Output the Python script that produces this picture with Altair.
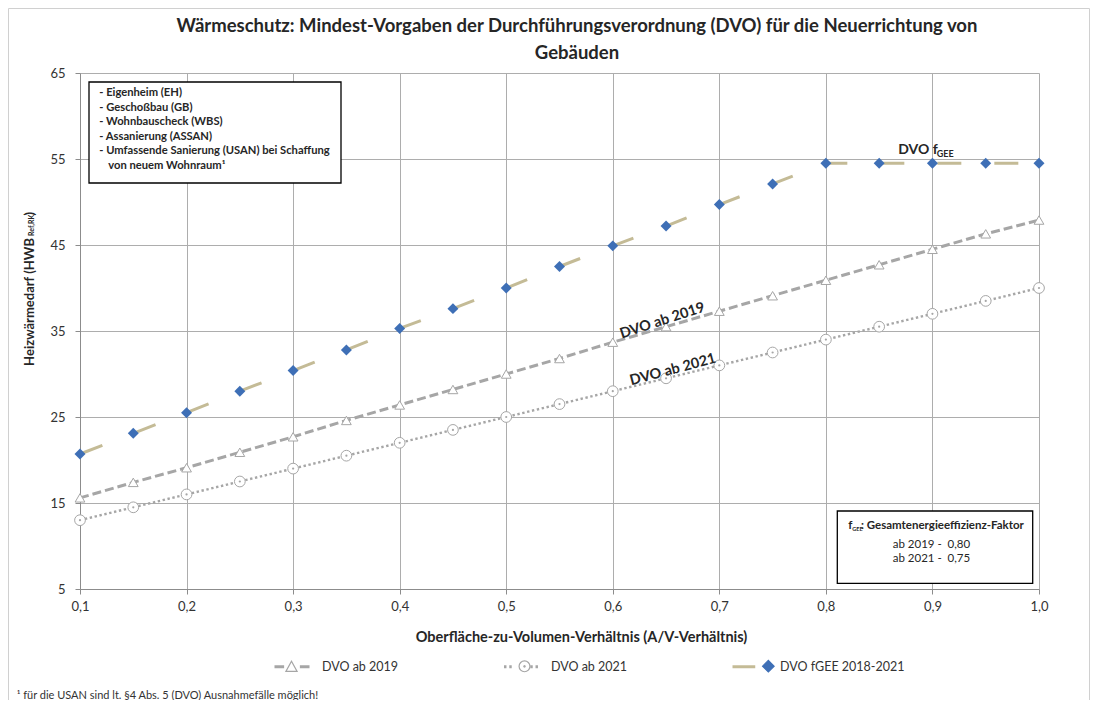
import altair as alt
import pandas as pd

# ---------------- data ----------------
av_ratio = [0.1, 0.15, 0.2, 0.25, 0.3, 0.35, 0.4, 0.45, 0.5, 0.55,
            0.6, 0.65, 0.7, 0.75, 0.8, 0.85, 0.9, 0.95, 1.0]
dvo_2019 = [15.6, 17.4, 19.1, 20.9, 22.7, 24.6, 26.4, 28.2, 30.0, 31.8,
            33.7, 35.5, 37.3, 39.1, 40.9, 42.7, 44.5, 46.3, 47.9]
dvo_2021 = [13.0, 14.5, 16.0, 17.5, 19.0, 20.5, 22.0, 23.5, 25.0, 26.5,
            28.0, 29.5, 31.0, 32.5, 34.0, 35.5, 37.0, 38.5, 40.0]
dvo_fgee = [20.7, 23.1, 25.5, 28.0, 30.4, 32.8, 35.3, 37.6, 40.0, 42.5,
            44.9, 47.2, 49.7, 52.1, 54.5, 54.5, 54.5, 54.5, 54.5]
series_names = ["DVO ab 2019", "DVO ab 2021", "DVO fGEE 2018-2021"]
x_ticks = [0.1, 0.2, 0.3, 0.4, 0.5, 0.6, 0.7, 0.8, 0.9, 1.0]
y_ticks = [5, 15, 25, 35, 45, 55, 65]

title_lines = ["Wärmeschutz: Mindest-Vorgaben der Durchführungsverordnung (DVO) für die Neuerrichtung von",
               "Gebäuden"]
box1_lines = ["- Eigenheim (EH)", "- Geschoßbau (GB)", "- Wohnbauscheck (WBS)",
              "- Assanierung (ASSAN)", "- Umfassende Sanierung (USAN) bei Schaffung"]
box1_last = "von neuem Wohnraum¹"
box2_lines = ["ab 2019 -\u00a0\u00a00,80", "ab 2021 -\u00a0\u00a00,75"]
footnote = "¹ für die USAN sind lt. §4 Abs. 5 (DVO) Ausnahmefälle möglich!"

df = pd.DataFrame({
    "av": av_ratio * 3,
    "hwb": dvo_2019 + dvo_2021 + dvo_fgee,
    "series": [series_names[0]] * len(av_ratio) + [series_names[1]] * len(av_ratio)
              + [series_names[2]] * len(av_ratio),
})
df["series_m"] = df["series"]
d19 = df[df["series"] == series_names[0]]
d21 = df[df["series"] == series_names[1]]
dfg = df[df["series"] == series_names[2]]

FONT = "Lato"
GRAY = "#A6A6A6"
TAN = "#C4BB96"
BLUE = "#3E6FB6"
TXT = "#262626"

X = alt.X("av:Q", scale=alt.Scale(domain=[0.1, 1.0], nice=False, zero=False),
          axis=alt.Axis(values=x_ticks,
                        labelExpr="replace(format(datum.value, '.1f'), '.', ',')",
                        grid=True, gridColor="#ADADAD", domainColor="#8C8C8C",
                        tickColor="#8C8C8C", tickSize=5, labelPadding=6,
                        labelFont=FONT, labelFontSize=13, labelColor="#333333",
                        labelFlush=False,
                        title="Oberfläche-zu-Volumen-Verhältnis (A/V-Verhältnis)",
                        titleFont=FONT, titleFontSize=14.5, titleFontWeight="bold",
                        titleColor=TXT, titleX=501, titleY=48,
                        titleBaseline="middle", titleAlign="center"))
Y = alt.Y("hwb:Q", scale=alt.Scale(domain=[5, 65], nice=False, zero=False),
          axis=alt.Axis(values=y_ticks, grid=True, gridColor="#ADADAD",
                        domainColor="#8C8C8C", tickColor="#8C8C8C", tickSize=5,
                        labelPadding=10, labelFont=FONT, labelFontSize=13,
                        labelColor="#333333", title=None))

# ---------------- data series ----------------
fgee_line = alt.Chart(dfg).mark_line(color=TAN, strokeWidth=3, strokeDash=[24, 33]).encode(x=X, y=Y)
fgee_pts = alt.Chart(dfg).mark_point(shape="diamond", filled=True, color=BLUE, size=120, opacity=1).encode(x=X, y=Y)
l19 = alt.Chart(d19).mark_line(color=GRAY, strokeWidth=3, strokeDash=[9, 4]).encode(x=X, y=Y)
p19 = alt.Chart(d19).mark_point(shape="triangle-up", filled=True, fill="white", stroke=GRAY,
                                strokeWidth=1, size=95, opacity=1).encode(x=X, y=Y)
l21 = alt.Chart(d21).mark_line(color=GRAY, strokeWidth=2.4, strokeDash=[2.4, 2.6]).encode(x=X, y=Y)
p21 = alt.Chart(d21).mark_point(shape="circle", filled=True, fill="white", stroke=GRAY,
                                strokeWidth=1, size=115, opacity=1).encode(x=X, y=Y)
p21c = alt.Chart(d21).mark_point(shape="circle", filled=True, color=GRAY, size=5, opacity=1).encode(x=X, y=Y)

# ---------------- legend (two overlaid legends: lines with labels + markers) ----------------
path_lines = ["M-1,0H-0.45M0.45,0H1",
              "M-0.97,0H-0.83M-0.67,0H-0.53M0.53,0H0.67M0.83,0H0.97",
              "M-1,0H0.3"]
path_marks = ["M0,-0.31L0.32,0.27L-0.32,0.27Z",
              "M0.31,0A0.31,0.31 0 1,1 -0.31,0A0.31,0.31 0 1,1 0.31,0Z"
              "M0.04,0A0.04,0.04 0 1,1 -0.04,0A0.04,0.04 0 1,1 0.04,0Z",
              "M0.62,-0.33L0.95,0L0.62,0.33L0.29,0Z"]
leg_common = dict(orient="none", legendX=193, legendY=574.5, direction="horizontal",
                  columns=3, gridAlign="all", symbolSize=1225,
                  symbolOpacity=1, labelFont=FONT, labelFontSize=12.5,
                  labelColor="#333333", padding=0, title=None)
legA = alt.Legend(symbolStrokeWidth=3, labelOffset=11, columnPadding=50, **leg_common)
legB = alt.Legend(symbolStrokeWidth=1.2, labelOffset=0, columnPadding=195,
                  labelExpr="''", **leg_common)

legend_lines = alt.Chart(df).mark_point(opacity=0).encode(
    x=X, y=Y,
    shape=alt.Shape("series:N", scale=alt.Scale(domain=series_names, range=path_lines), legend=legA),
    stroke=alt.Stroke("series:N", scale=alt.Scale(domain=series_names, range=[GRAY, GRAY, TAN]), legend=legA),
)
legend_marks = alt.Chart(df).mark_point(opacity=0, filled=True).encode(
    x=X, y=Y,
    shape=alt.Shape("series_m:N", scale=alt.Scale(domain=series_names, range=path_marks), legend=legB),
    stroke=alt.Stroke("series_m:N", scale=alt.Scale(domain=series_names, range=[GRAY, GRAY, BLUE]), legend=legB),
    fill=alt.Fill("series_m:N", scale=alt.Scale(domain=series_names, range=["white", "white", BLUE]), legend=legB),
)

# ---------------- annotations ----------------
one = pd.DataFrame({"k": [0]})


def txt(s, x, y, size, weight="normal", align="left", angle=0, color=TXT, baseline="middle"):
    return alt.Chart(one).mark_text(text=s, fontSize=size, fontWeight=weight, align=align,
                                    angle=angle, color=color, font=FONT,
                                    baseline=baseline).encode(x=alt.value(x), y=alt.value(y))


def box(x, x2, y, y2, stroke="#000000", width=1.3, fill="white"):
    return alt.Chart(one).mark_rect(fill=fill, stroke=stroke, strokeWidth=width).encode(
        x=alt.value(x), x2=alt.value(x2), y=alt.value(y), y2=alt.value(y2))


frame = alt.Chart(one).mark_rect(filled=False, stroke="#D0D0D0", strokeWidth=1).encode(
    x=alt.value(-71.5), x2=alt.value(1009.5), y=alt.value(-64.5), y2=alt.value(700))

ann = [frame]
ann.append(txt(title_lines[0], 497, -47, 18.5, "bold", "center"))
ann.append(txt(title_lines[1], 497, -20, 18.5, "bold", "center"))

# y axis title with subscript (pieces joined at fixed junctions)
ann.append(txt("Heizwärmedarf (HWB", -50, 165, 13, "bold", "right", 270))
ann.append(txt("Ref,RK", -48.5, 163, 7, "bold", "left", 270))
ann.append(txt(")", -50, 142.5, 13, "bold", "left", 270))

# box top-left
ann.append(box(9, 261, 9, 110))
for i, line in enumerate(box1_lines):
    ann.append(txt(line, 19.3, 20.3 + i * 14.5, 11.2, "bold"))
ann.append(txt(box1_last, 28.3, 20.3 + 5 * 14.5, 11.2, "bold"))

# box bottom-right
ann.append(box(757.3, 952.7, 438, 510.3))
ann.append(txt("f", 768.3, 452.7, 11.5, "bold"))
ann.append(txt("GEE", 772.3, 455.5, 5.5, "bold"))
ann.append(txt(": Gesamtenergieeffizienz-Faktor", 781, 452.7, 11.5, "bold"))
for i, line in enumerate(box2_lines):
    ann.append(txt(line, 812.7, 472 + i * 14.3, 11.5))

# series labels
ann.append(txt("DVO f", 818.3, 77, 14, "bold"))
ann.append(txt("GEE", 856.7, 81, 9, "bold"))
ann.append(txt("DVO ab 2019", 582.5, 248, 14.5, "bold", "center", 342))
ann.append(txt("DVO ab 2021", 593, 297, 14.5, "bold", "center", 345))

# footnote
ann.append(txt(footnote, -63.3, 623, 11, "normal", "left", color="#333333"))

chart = alt.layer(
    fgee_line, l19, l21, p19, p21, p21c, fgee_pts, legend_lines, legend_marks, *ann
).resolve_scale(
    shape="independent", stroke="independent", fill="independent"
).properties(
    width=959, height=516,
    autosize=alt.AutoSizeParams(type="none"),
    padding={"left": 72, "top": 65, "right": 51, "bottom": 111},
    background="white",
).configure_view(strokeWidth=0)

chart.save("out.html", embed_options={"renderer": "svg", "actions": False})
